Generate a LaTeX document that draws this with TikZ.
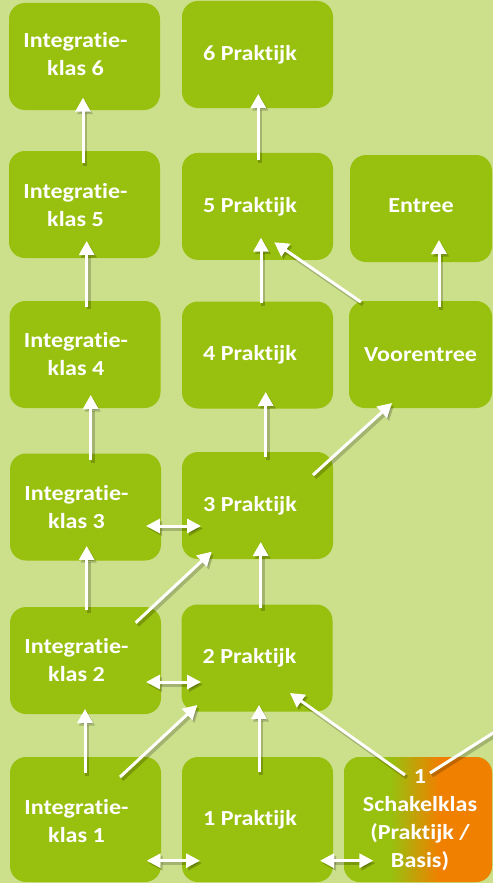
\documentclass[tikz,border=0pt]{standalone}
\usepackage{fontspec}
\setmainfont{Carlito}[FakeStretch=1.12, RawFeature={-liga;-clig;-dlig}]
\usetikzlibrary{arrows.meta,calc}
\definecolor{bg}{RGB}{204,224,140}
\definecolor{boxg}{RGB}{152,192,14}
\definecolor{orng}{RGB}{240,128,0}
\pgfdeclarehorizontalshading{schshade}{100bp}{color(0bp)=(boxg); color(41bp)=(boxg); color(57bp)=(orng); color(100bp)=(orng)}
\newcommand\myarr[3]{\draw[arrshadow,#1] #2 -- #3; \draw[arr,#1] #2 -- #3;}
\begin{document}
\begin{tikzpicture}[x=1pt,y=-1pt,
  box/.style={fill=boxg, rounded corners=16pt, minimum width=151pt, minimum height=107pt, inner sep=0pt, draw=none},
  lbl/.style={text=white, font=\bfseries\fontsize{21.5}{28}\selectfont, align=center, inner sep=0pt},
  arr/.style={draw=white, line width=3pt},
  arrshadow/.style={draw=black, opacity=0.2, line width=4pt, transform canvas={shift={(2pt,-2.5pt)}}},
  tip/.style={-{Triangle[width=15pt,length=14pt]}},
  both/.style={{Triangle[width=14pt,length=14pt]}-{Triangle[width=14pt,length=14pt]}}
]
\useasboundingbox (0,0) rectangle (493,883);
\clip (0,0) rectangle (493,883);
\fill[bg] (0,0) rectangle (493,883);
% boxes
\node[box] (ik6) at (84.5,56.5) {};
\node[box] (p6) at (257.5,54.5) {};
\node[box] (ik5) at (84.5,204.5) {};
\node[box] (p5) at (257.5,206.4) {};
\node[box, minimum width=142pt] (entree) at (421,208.5) {};
\node[box] (ik4) at (85,354.5) {};
\node[box] (p4) at (257.5,355) {};
\node[box, minimum width=143pt] (voor) at (420.5,354.5) {};
\node[box] (ik3) at (85.5,507) {};
\node[box] (p3) at (257.5,505.5) {};
\node[box] (ik2) at (85.5,660.5) {};
\node[box] (p2) at (257,658) {};
\node[box, minimum height=125pt] (ik1) at (85.5,819.5) {};
\node[box, minimum height=125pt] (p1) at (257.5,819.5) {};
\node[box, minimum height=125pt, minimum width=148pt, shade, shading=schshade] (sch) at (418,819.5) {};
% labels
\node[lbl] (ik6t) at ([xshift=-9pt,yshift=2pt]ik6.center) {Integratie-\\klas 6};
\node[lbl] (p6t) at ([xshift=-7.5pt]p6.center) {6 Praktijk};
\node[lbl] (ik5t) at ([xshift=-9pt,yshift=-1pt]ik5.center) {Integratie-\\klas 5};
\node[lbl] (p5t) at ([xshift=-7.5pt]p5.center) {5 Praktijk};
\node[lbl] (entreet) at ([yshift=3pt]entree.center) {Entree};
\node[lbl] (ik4t) at ([xshift=-9pt]ik4.center) {Integratie-\\klas 4};
\node[lbl] (p4t) at ([xshift=-7.5pt]p4.center) {4 Praktijk};
\node[lbl] (voort) at (voor.center) {Voorentree};
\node[lbl] (ik3t) at ([xshift=-9pt]ik3.center) {Integratie-\\klas 3};
\node[lbl] (p3t) at ([xshift=-7.5pt]p3.center) {3 Praktijk};
\node[lbl] (ik2t) at ([xshift=-9pt]ik2.center) {Integratie-\\klas 2};
\node[lbl] (p2t) at ([xshift=-7.5pt]p2.center) {2 Praktijk};
\node[lbl] (ik1t) at ([xshift=-9pt,yshift=-2pt]ik1.center) {Integratie-\\klas 1};
\node[lbl] (p1t) at ([xshift=-7.5pt]p1.center) {1 Praktijk};
\node[lbl] (scht) at ([xshift=2pt,yshift=-1pt]sch.center) {1\\Schakelklas\\(Praktijk /\\Basis)};
\coordinate (offimg) at (512,721);
% arrows
\myarr{tip}{($(ik5)+(-1.5,-41.5)$)}{($(ik6)+(-1.5,41.2)$)}
\myarr{tip}{($(p5)+(0.8,-46.4)$)}{($(p6)+(0.8,39.5)$)}
\myarr{tip}{($(ik4)+(1.7,-47.8)$)}{($(ik5)+(2.2,36.5)$)}
\myarr{tip}{($(p4)+(3.5,-52)$)}{($(p5)+(3.5,31.3)$)}
\myarr{tip}{($(voor)+(-59.5,-52.5)$)}{($(p5)+(16.8,35.9)$)}
\myarr{tip}{($(voor)+(18.5,-47.5)$)}{($(entree)+(18,31.5)$)}
\myarr{tip}{($(ik3)+(5.2,-47)$)}{($(ik4)+(5.7,40.5)$)}
\myarr{tip}{($(p3)+(8.2,-48.5)$)}{($(p4)+(8.2,37)$)}
\myarr{tip}{($(p3)+(55.5,-30.5)$)}{($(voor)+(-28.5,48.5)$)}
\myarr{both}{($(ik3)+(60.5,19)$)}{($(p3)+(-56.5,20.5)$)}
\myarr{tip}{($(ik2)+(1.2,-50.5)$)}{($(ik3)+(1.2,39)$)}
\myarr{tip}{($(p2)+(3.7,-50)$)}{($(p3)+(3.2,36.5)$)}
\myarr{tip}{($(ik2)+(50.2,-37.8)$)}{($(p3)+(-45.8,46.2)$)}
\myarr{both}{($(ik2)+(60.5,21.5)$)}{($(p2)+(-56,24)$)}
\myarr{tip}{($(ik1)+(-0.5,-46.5)$)}{($(ik2)+(-0.5,48.5)$)}
\myarr{tip}{($(ik1)+(34.5,-42.5)$)}{($(p2)+(-59.7,47)$)}
\myarr{tip}{($(p1)+(1.5,-47.5)$)}{($(p2)+(2,47)$)}
\myarr{tip}{($(sch)+(-13,-44.5)$)}{($(p2)+(33,35)$)}
\myarr{}{($(sch)+(12,-46.5)$)}{(offimg)}
\myarr{both}{($(ik1)+(61.2,41.2)$)}{($(p1)+(-57.5,41.2)$)}
\myarr{both}{($(p1)+(62.5,41.2)$)}{($(sch)+(-44.7,41.2)$)}
\end{tikzpicture}
\end{document}
